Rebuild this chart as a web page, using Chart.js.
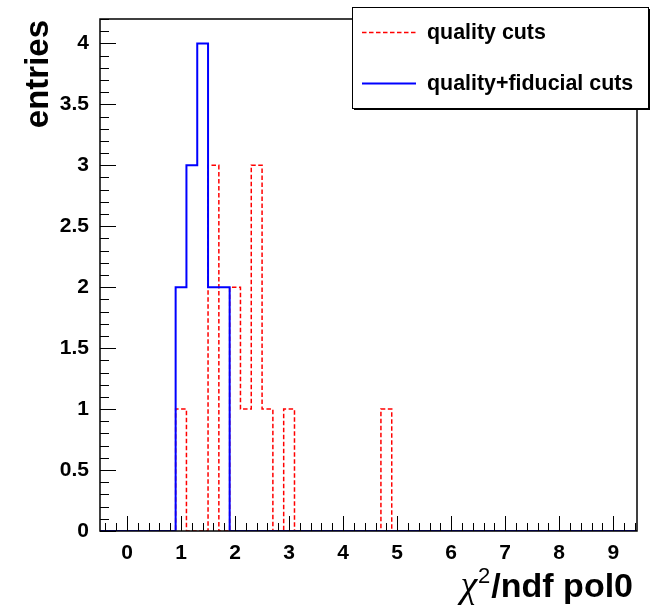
<!DOCTYPE html>
<html>
<head>
<meta charset="utf-8">
<script src="https://cdn.jsdelivr.net/npm/chart.js@4/dist/chart.umd.min.js"></script>
<style>
  html, body { margin: 0; padding: 0; background: #ffffff; }
  #wrap { width: 656px; height: 612px; }
</style>
</head>
<body>
<div id="wrap"><canvas id="c" width="656" height="612"></canvas></div>
<script>
// Histogram binning: 50 bins of width 0.2 starting at -0.5
const binStart = -0.5;
const binWidth = 0.2;

// Bin contents (entries per bin)
const qualityCuts = [
  0,0,0,0,0, 0,0,1,0,0, 3,0,2,1,3, 1,0,1,0,0,
  0,0,0,0,0, 0,1,0,0,0, 0,0,0,0,0, 0,0,0,0,0,
  0,0,0,0,0, 0,0,0,0,0
];
const fiducialCuts = [
  0,0,0,0,0, 0,0,2,3,4, 2,2,0,0,0, 0,0,0,0,0,
  0,0,0,0,0, 0,0,0,0,0, 0,0,0,0,0, 0,0,0,0,0,
  0,0,0,0,0, 0,0,0,0,0
];

const seriesNames = ['quality cuts', 'quality+fiducial cuts'];
const xTickLabels = ['0','1','2','3','4','5','6','7','8','9'];
const yTickLabels = ['0','0.5','1','1.5','2','2.5','3','3.5','4'];
const yTitle = 'entries';
const xTitleParts = ['\u03C7', '2', '/ndf pol0'];

const xRange = [-0.5, 9.44];
const yRange = [0, 4.2];

function histogramOutline(counts) {
  const pts = [{ x: binStart, y: 0 }];
  counts.forEach((c, i) => pts.push({ x: binStart + i * binWidth, y: c }));
  pts.push({ x: binStart + counts.length * binWidth, y: counts[counts.length - 1] });
  return pts;
}

const SANS = '"Liberation Sans", Arial, sans-serif';

// Frame, inward ticks, axis titles and legend box
const frameDecor = {
  id: 'frameDecor',
  afterDatasetsDraw(chart) {
    const { ctx, chartArea: a, scales: { x, y } } = chart;
    ctx.save();
    ctx.strokeStyle = '#000';
    ctx.lineWidth = 1;
    // x ticks every 0.2, longer at integers
    for (let k = -2; k <= 47; k++) {
      const v = k * 0.2;
      const px = Math.round(x.getPixelForValue(v)) + 0.5;
      if (px < a.left || px > a.right) continue;
      const len = (k % 5 === 0) ? 15 : 8;
      ctx.beginPath();
      ctx.moveTo(px, a.bottom);
      ctx.lineTo(px, a.bottom - len);
      ctx.stroke();
    }
    // y ticks every 0.1, longer at multiples of 0.5
    for (let k = 0; k <= 42; k++) {
      const v = k * 0.1;
      const py = Math.round(y.getPixelForValue(v)) + 0.5;
      const len = (k % 5 === 0) ? 16 : 9;
      ctx.beginPath();
      ctx.moveTo(a.left, py);
      ctx.lineTo(a.left + len, py);
      ctx.stroke();
    }
    // frame
    ctx.lineWidth = 1.5;
    ctx.strokeRect(a.left, a.top, a.right - a.left, a.bottom - a.top);

    // y title
    ctx.fillStyle = '#000';
    ctx.save();
    ctx.translate(48, 20);
    ctx.rotate(-Math.PI / 2);
    ctx.font = 'bold 33px ' + SANS;
    ctx.textAlign = 'right';
    ctx.textBaseline = 'alphabetic';
    ctx.fillText(yTitle, 0, 0);
    ctx.restore();

    // x title: chi, superscript 2, then bold text, right-aligned at the frame end
    const base = 597;
    const xr = 633;
    ctx.textBaseline = 'alphabetic';
    ctx.textAlign = 'left';
    ctx.font = 'bold 34px ' + SANS;
    const w3 = ctx.measureText(xTitleParts[2]).width;
    ctx.font = '22px ' + SANS;
    const w2 = ctx.measureText(xTitleParts[1]).width;
    ctx.font = 'italic 38px "Liberation Serif", serif';
    const w1 = ctx.measureText(xTitleParts[0]).width;
    const xs = xr - w3 - w2 - w1 - 2;
    ctx.fillText(xTitleParts[0], xs, base);
    ctx.font = '22px ' + SANS;
    ctx.fillText(xTitleParts[1], xs + w1 + 1, base - 14);
    ctx.font = 'bold 34px ' + SANS;
    ctx.fillText(xTitleParts[2], xs + w1 + w2 + 2, base);

    // legend
    const L = { l: 352, t: 7, r: 648, b: 108 };
    ctx.fillStyle = '#000';
    ctx.fillRect(L.l + 2, L.t + 2, L.r - L.l, L.b - L.t);
    ctx.fillStyle = '#fff';
    ctx.fillRect(L.l, L.t, L.r - L.l, L.b - L.t);
    ctx.lineWidth = 1;
    ctx.strokeStyle = '#000';
    ctx.strokeRect(L.l + 0.5, L.t + 0.5, L.r - L.l, L.b - L.t);
    const rows = [32, 83];
    const order = [1, 0]; // dataset index for each legend row
    ctx.font = 'bold 21.4px ' + SANS;
    ctx.textBaseline = 'middle';
    rows.forEach((ry, i) => {
      const ds = chart.data.datasets[order[i]];
      ctx.save();
      ctx.strokeStyle = ds.borderColor;
      ctx.lineWidth = ds.borderWidth;
      ctx.setLineDash(ds.borderDash || []);
      ctx.beginPath();
      ctx.moveTo(362, ry + 0.5);
      ctx.lineTo(416, ry + 0.5);
      ctx.stroke();
      ctx.restore();
      ctx.fillStyle = '#000';
      ctx.fillText(ds.label, 427, ry + 1);
    });
    ctx.restore();
  }
};

new Chart(document.getElementById('c'), {
  type: 'line',
  data: {
    datasets: [
      {
        label: seriesNames[1],
        data: histogramOutline(fiducialCuts),
        borderColor: '#0000ff',
        borderWidth: 2,
        stepped: 'before',
        pointRadius: 0,
        fill: false,
        order: 0
      },
      {
        label: seriesNames[0],
        data: histogramOutline(qualityCuts),
        borderColor: '#ff0000',
        borderWidth: 1.5,
        borderDash: [4.5, 2.5],
        stepped: 'before',
        pointRadius: 0,
        fill: false,
        order: 1
      }
    ]
  },
  options: {
    responsive: false,
    animation: false,
    events: [],
    layout: { padding: { top: 19, right: 19, left: 0, bottom: 0 } },
    plugins: { legend: { display: false }, tooltip: { enabled: false } },
    scales: {
      x: {
        type: 'linear',
        min: xRange[0],
        max: xRange[1],
        grid: { display: false, drawTicks: false },
        border: { display: false },
        afterBuildTicks: s => { s.ticks = xTickLabels.map(t => ({ value: parseFloat(t) })); },
        afterFit: s => { s.height = 81; s.paddingLeft = 0; s.paddingRight = 0; },
        ticks: {
          autoSkip: false,
          maxRotation: 0,
          padding: 10,
          color: '#000',
          font: { family: SANS, weight: 'bold', size: 21 },
          callback: v => xTickLabels[xTickLabels.indexOf(String(v))] ?? ''
        }
      },
      y: {
        type: 'linear',
        min: yRange[0],
        max: yRange[1],
        grid: { display: false, drawTicks: false },
        border: { display: false },
        afterBuildTicks: s => { s.ticks = yTickLabels.map(t => ({ value: parseFloat(t) })); },
        afterFit: s => { s.width = 100; s.paddingTop = 0; s.paddingBottom = 0; },
        ticks: {
          autoSkip: false,
          padding: 11,
          color: '#000',
          font: { family: SANS, weight: 'bold', size: 21 },
          callback: v => yTickLabels[yTickLabels.indexOf(String(v))] ?? ''
        }
      }
    }
  },
  plugins: [frameDecor]
});
</script>
</body>
</html>
